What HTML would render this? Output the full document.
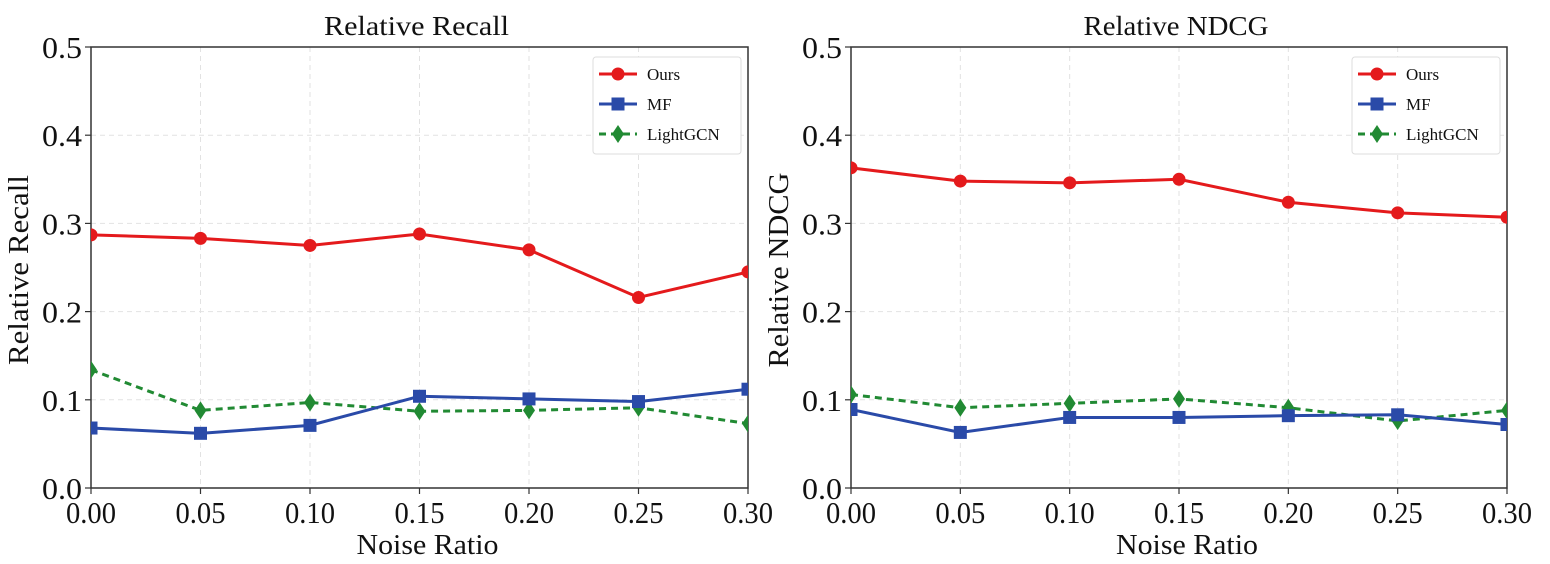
<!DOCTYPE html>
<html><head><meta charset="utf-8"><style>
body{margin:0;background:#fff;}
svg{display:block;font-family:"Liberation Serif",serif;}
</style></head><body>
<svg id="chart" width="1550" height="564"></svg>
<script>
const xTicks=[0,0.05,0.10,0.15,0.20,0.25,0.30];
const xTickLabels=["0.00","0.05","0.10","0.15","0.20","0.25","0.30"];
const yTicks=[0,0.1,0.2,0.3,0.4,0.5];
const yTickLabels=["0.0","0.1","0.2","0.3","0.4","0.5"];
const recallOurs=[0.287,0.283,0.275,0.288,0.270,0.216,0.245];
const recallMF=[0.068,0.062,0.071,0.104,0.101,0.098,0.112];
const recallLGCN=[0.134,0.088,0.097,0.087,0.088,0.091,0.073];
const ndcgOurs=[0.363,0.348,0.346,0.350,0.324,0.312,0.307];
const ndcgMF=[0.089,0.063,0.080,0.080,0.082,0.083,0.072];
const ndcgLGCN=[0.106,0.091,0.096,0.101,0.091,0.076,0.088];

const NS="http://www.w3.org/2000/svg";
const svg=document.getElementById('chart');
function mk(tag,attrs,parent,text){const e=document.createElementNS(NS,tag);for(const k in attrs)e.setAttribute(k,attrs[k]);if(text!==undefined)e.textContent=text;(parent||svg).appendChild(e);return e;}
const RED="#e41a1c",BLUE="#2a4aa8",GREEN="#218a33";

function panel(name,L,R,title,ylabel,ylabelLen,ours,mf,lg){
  const T=47,B=488;
  const g=mk('g',{});
  
  
  const xs=v=>L+(v-0)/(0.30)*(R-L);
  const ys=v=>B-v/0.5*(B-T);
  xTicks.forEach((t,i)=>{
    const l=mk('line',{x1:xs(t),x2:xs(t),y1:T,y2:B,stroke:"#e2e2e2","stroke-dasharray":"5,4","stroke-width":1},g);
    
    
    mk('line',{x1:xs(t),x2:xs(t),y1:B,y2:B+6,stroke:"#333","stroke-width":1.2},g);
    const tx=mk('text',{x:xs(t),y:B+35,"text-anchor":"middle","font-size":31,fill:"#111",textLength:50,lengthAdjust:"spacingAndGlyphs"},g,xTickLabels[i]);
    
    
  });
  yTicks.forEach((t,i)=>{
    const l=mk('line',{x1:L,x2:R,y1:ys(t),y2:ys(t),stroke:"#e2e2e2","stroke-dasharray":"5,4","stroke-width":1},g);
    
    
    mk('line',{x1:L-6,x2:L,y1:ys(t),y2:ys(t),stroke:"#333","stroke-width":1.2},g);
    const tx=mk('text',{x:L-9,y:ys(t)+11,"text-anchor":"end","font-size":31,fill:"#111",textLength:40,lengthAdjust:"spacingAndGlyphs"},g,yTickLabels[i]);
    
    
  });
  const fr=mk('rect',{x:L,y:T,width:R-L,height:B-T,fill:"none",stroke:"#333","stroke-width":1.5},g);
  
  
  const tt=mk('text',{x:(L+R)/2-3,y:35,"text-anchor":"middle","font-size":27,fill:"#111",textLength:185,lengthAdjust:"spacingAndGlyphs"},g,title);
  
  
  const xl=mk('text',{x:(L+R)/2+8,y:554,"text-anchor":"middle","font-size":28,fill:"#111",textLength:142,lengthAdjust:"spacingAndGlyphs"},g,"Noise Ratio");
  
  
  const cy=270;
  const yl=mk('text',{x:L-63,y:cy,"text-anchor":"middle","font-size":29,fill:"#111",textLength:ylabelLen,lengthAdjust:"spacingAndGlyphs",transform:`rotate(-90 ${L-63} ${cy})`},g,ylabel);
  
  
  const clip=mk('clipPath',{id:'clip-'+name},g);
  mk('rect',{x:L,y:T,width:R-L,height:B-T},clip);
  const series=[[lg,GREEN,'diamond','lightgcn',"7,5"],[mf,BLUE,'square','mf',null],[ours,RED,'circle','ours',null]];
  series.forEach(([vals,c,m,sn,dash])=>{
    const sg=mk('g',{"clip-path":`url(#clip-${name})`},g);
    
    
    const pts=vals.map((v,i)=>xs(xTicks[i])+','+ys(v)).join(' ');
    const pl=mk('polyline',{points:pts,fill:"none",stroke:c,"stroke-width":3},sg);
    if(dash)pl.setAttribute('stroke-dasharray',dash);
    
    
    vals.forEach((v,i)=>{
      const x=xs(xTicks[i]),y=ys(v);let p;
      if(m==='circle')p=mk('circle',{cx:x,cy:y,r:6.5,fill:c},sg);
      else if(m==='square')p=mk('rect',{x:x-6.5,y:y-6.5,width:13,height:13,fill:c},sg);
      else p=mk('polygon',{points:`${x},${y-9} ${x+6},${y} ${x},${y+9} ${x-6},${y}`,fill:c},sg);
      
      
    });
  });
  const lx=R-155,ly=57;
  const lgG=mk('g',{},g);
  
  
  mk('rect',{x:lx,y:ly,width:148,height:97,fill:"#fff",stroke:"#ddd","stroke-width":1,rx:3},lgG);
  [["Ours",RED,'circle'],["MF",BLUE,'square'],["LightGCN",GREEN,'diamond']].forEach(([lab,c,m],i)=>{
    const y=ly+17+i*30;
    const e=mk('g',{},lgG);
    
    
    const ln=mk('line',{x1:lx+6,x2:lx+44,y1:y,y2:y,stroke:c,"stroke-width":3},e);
    if(m==='diamond')ln.setAttribute('stroke-dasharray','7,5');
    const x=lx+25;
    if(m==='circle')mk('circle',{cx:x,cy:y,r:6.5,fill:c},e);
    else if(m==='square')mk('rect',{x:x-6.5,y:y-6.5,width:13,height:13,fill:c},e);
    else mk('polygon',{points:`${x},${y-9} ${x+6},${y} ${x},${y+9} ${x-6},${y}`,fill:c},e);
    mk('text',{x:lx+54,y:y+6,"font-size":17,fill:"#111"},e,lab);
  });
}
panel('recall',91,748,"Relative Recall","Relative Recall",190,recallOurs,recallMF,recallLGCN);
panel('ndcg',851,1507,"Relative NDCG","Relative NDCG",195,ndcgOurs,ndcgMF,ndcgLGCN);
</script>
</body></html>
